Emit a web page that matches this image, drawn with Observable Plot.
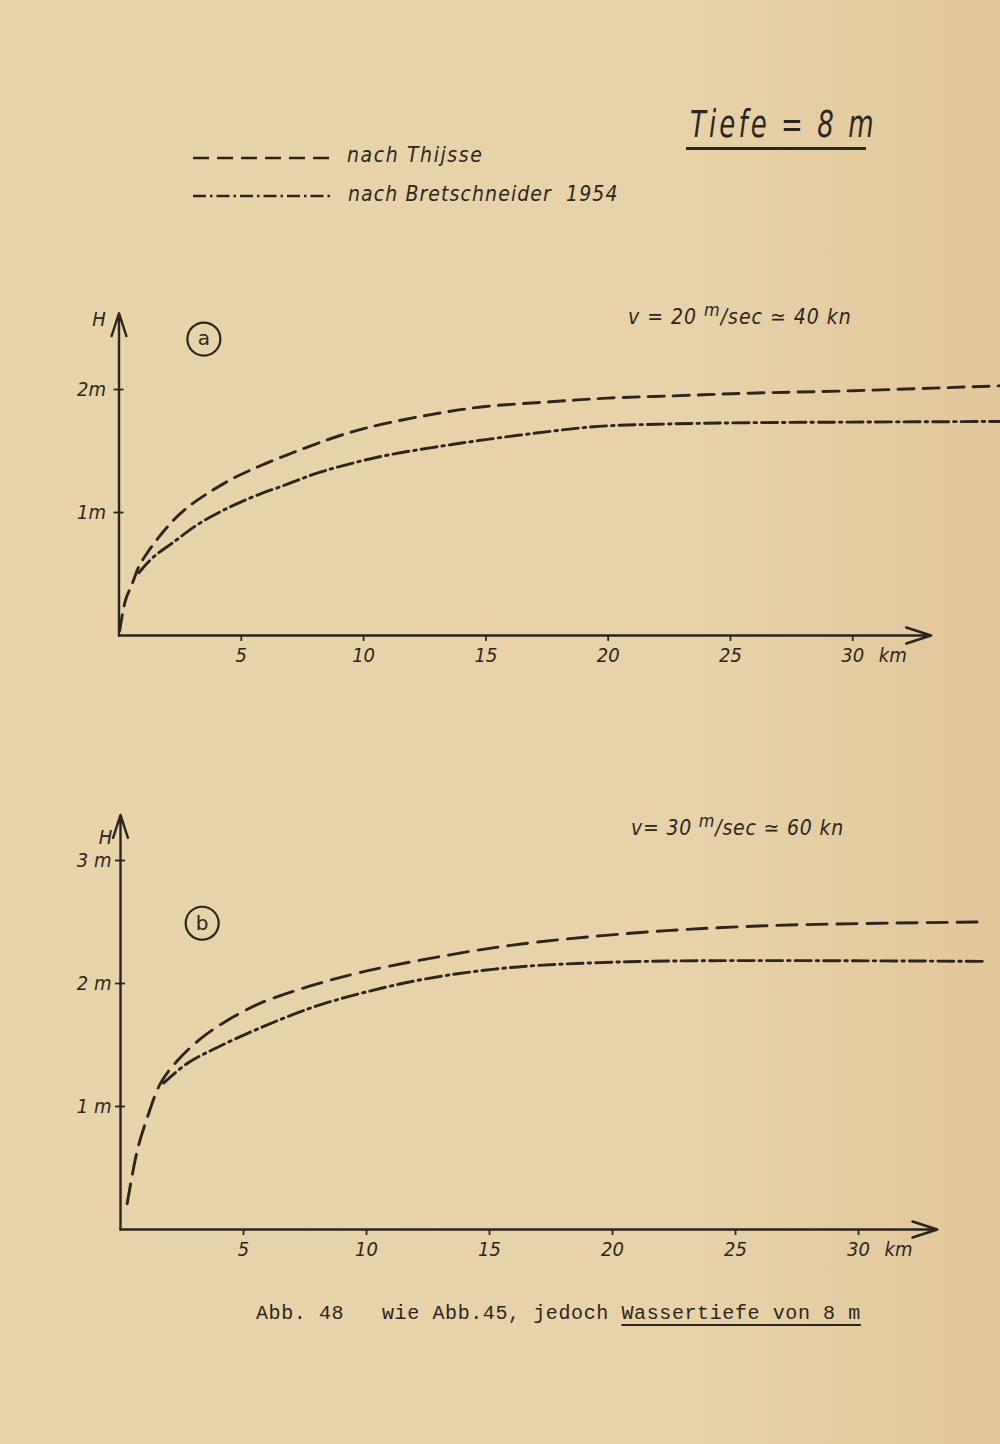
<!DOCTYPE html>
<html>
<head>
<meta charset="utf-8">
<script src="https://cdn.jsdelivr.net/npm/d3@7"></script>
<script src="https://cdn.jsdelivr.net/npm/@observablehq/plot@0.6"></script>
<style>
  html, body { margin: 0; padding: 0; }
  body {
    width: 1000px; height: 1444px; position: relative; overflow: hidden;
    background: linear-gradient(90deg, #e8d4ab 0%, #e7d2a9 70%, #e2c79a 100%);
    color: #2b2620;
    font-family: "DejaVu Sans Condensed", "DejaVu Sans", sans-serif;
  }
  .abs { position: absolute; white-space: pre; }
  .it { font-style: italic; font-stretch: condensed; }
  sup { font-size: 0.85em; vertical-align: 0.45em; line-height: 0; }
</style>
</head>
<body>
<div id="panelA" class="abs" style="left:0; top:280px;"></div>
<div id="panelB" class="abs" style="left:0; top:790px;"></div>

<div class="abs it" style="left:690px; top:106px; font-size:37px; letter-spacing:4px; line-height:1; transform:scaleX(0.78); transform-origin:0 0;">Tiefe = 8 m</div>
<div class="abs" style="left:686px; top:147px; width:180px; height:2.5px; background:#2b2620;"></div>

<svg class="abs" style="left:190px; top:145px;" width="150" height="60">
  <line x1="3" x2="143" y1="13" y2="13" stroke="#2b2620" stroke-width="2.6" stroke-dasharray="16 8"></line>
  <line x1="3" x2="143" y1="51" y2="51" stroke="#2b2620" stroke-width="2.6" stroke-dasharray="13 4 2.5 4"></line>
</svg>
<div class="abs it" id="legT" style="left:347px; top:143px; font-size:21px; letter-spacing:1.6px; line-height:1.2;"></div>
<div class="abs it" id="legB" style="left:348px; top:182px; font-size:21px; letter-spacing:1.1px; line-height:1.2;"></div>

<div class="abs it" style="left:628px; top:305px; font-size:21px; letter-spacing:1px; line-height:1.2;">v = 20 <sup>m</sup>/sec &#8771; 40 kn</div>
<div class="abs it" style="left:631px; top:816px; font-size:21px; letter-spacing:0.8px; line-height:1.2;">v= 30 <sup>m</sup>/sec &#8771; 60 kn</div>

<div class="abs" id="caption" style="left:256px; top:1302px; font-family:'Liberation Mono','DejaVu Sans Mono',monospace; font-size:20px; letter-spacing:0.6px; line-height:1.2;">Abb. 48   wie Abb.45, jedoch <span style="text-decoration:underline; text-underline-offset:5px; text-decoration-thickness:2px;">Wassertiefe von 8 m</span></div>

<script>
// ---------------- data ----------------
const seriesNames = ["nach Thijsse", "nach Bretschneider  1954"];

const xTicks = [5, 10, 15, 20, 25, 30];
const xUnit = "km";
const yTicksA = [1, 2];
const yTickLabelsA = ["1m", "2m"];
const yTicksB = [1, 2, 3];
const yTickLabelsB = ["1 m", "2 m", "3 m"];

// Panel a: v = 20 m/sec
const thijsseA_x = [0.03, 0.27, 0.54, 0.81, 1.15, 1.63, 2.24, 2.92, 3.74, 4.69, 5.78, 7.15, 8.51, 9.6, 10.81, 12.86, 14.9, 17.64, 19.97, 22.9, 25.8, 30.0, 36.0];
const thijsseA_h = [0.04, 0.29, 0.42, 0.56, 0.67, 0.80, 0.94, 1.06, 1.17, 1.28, 1.38, 1.49, 1.59, 1.66, 1.72, 1.80, 1.86, 1.90, 1.93, 1.95, 1.97, 1.99, 2.03];
const bretA_x = [0.81, 1.42, 2.24, 3.20, 4.28, 5.51, 6.88, 8.10, 9.33, 10.81, 12.86, 14.9, 17.64, 19.6, 22.5, 25.8, 30.0, 36.0];
const bretA_h = [0.51, 0.64, 0.76, 0.90, 1.02, 1.13, 1.23, 1.32, 1.39, 1.46, 1.53, 1.59, 1.66, 1.70, 1.72, 1.73, 1.735, 1.74];

// Panel b: v = 30 m/sec
const thijsseB_x = [0.27, 0.68, 1.09, 1.63, 2.30, 3.25, 4.34, 5.69, 7.72, 9.76, 12.47, 15.85, 20.85, 26.3, 34.96];
const thijsseB_h = [0.21, 0.64, 0.91, 1.19, 1.37, 1.55, 1.70, 1.84, 1.98, 2.09, 2.20, 2.31, 2.41, 2.47, 2.50];
const bretB_x = [1.75, 2.71, 3.93, 5.69, 7.72, 9.76, 12.47, 15.85, 19.5, 23.6, 35.2];
const bretB_h = [1.19, 1.35, 1.48, 1.64, 1.80, 1.92, 2.04, 2.13, 2.17, 2.185, 2.18];

// axis extents (arrow tips) in data units
const axisEndA = [33.2, 2.62];
const axisEndB = [33.2, 3.37];

document.getElementById("legT").textContent = seriesNames[0];
document.getElementById("legB").textContent = seriesNames[1];

const INK = "#2b2620";
const rows = (xs, hs) => xs.map((x, i) => ({x, h: hs[i]}));

function panel(opts) {
  const {height, marginLeft, marginTop, marginBottom, xMax, yMax, thijsse, bret,
         yTicks, yLabels, axisEnd, letter, letterPos, hDx, hDy, dashT, labelPad} = opts;
  const plotW = 1000 - marginLeft;
  return Plot.plot({
    width: 1000, height, marginLeft, marginRight: 0, marginTop, marginBottom,
    x: {domain: [0, xMax]},
    y: {domain: [0, yMax]},
    style: {
      background: "transparent", color: INK,
      fontFamily: "'DejaVu Sans Condensed', 'DejaVu Sans', sans-serif",
      fontStyle: "italic", fontSize: "20px", overflow: "visible"
    },
    marks: [
      // axes with arrow heads
      Plot.arrow([0], {x1: () => 0, y1: () => 0, x2: () => axisEnd[0], y2: () => 0,
        stroke: INK, strokeWidth: 2.6, headLength: 15, headAngle: 36}),
      Plot.arrow([0], {x1: () => 0, y1: () => 0, x2: () => 0, y2: () => axisEnd[1],
        stroke: INK, strokeWidth: 2.4, headLength: 15, headAngle: 36}),
      Plot.axisX({ticks: xTicks, tickSize: 6, tickPadding: 6, label: null,
        tickFormat: d => String(d), strokeWidth: 1.8}),
      Plot.text([xUnit], {x: () => xTicks[xTicks.length - 1], y: () => 0, text: d => d,
        dx: 40, dy: 20, fontStyle: "italic", fill: INK}),
      Plot.axisY({ticks: yTicks, tickSize: 5, tickPadding: labelPad, label: null,
        tickFormat: (d, i) => yLabels[yTicks.indexOf(d)], strokeWidth: 1.8}),
      Plot.tickY(yTicks, {y: d => d, insetRight: plotW - 5, stroke: INK, strokeWidth: 1.8}),
      Plot.text(["H"], {x: () => 0, y: () => axisEnd[1], text: d => d, dx: hDx, dy: hDy,
        fontStyle: "italic", fill: INK}),
      // circled panel letter
      Plot.dot([letter], {x: () => letterPos[0], y: () => letterPos[1], r: 16.5,
        stroke: INK, strokeWidth: 2.2, fill: "none"}),
      Plot.text([letter], {x: () => letterPos[0], y: () => letterPos[1], text: d => d,
        fontStyle: "normal", fontSize: 20, fontFamily: "'DejaVu Sans', sans-serif", fill: INK}),
      // curves
      Plot.line(thijsse, {x: "x", y: "h", curve: "catmull-rom", stroke: INK,
        strokeWidth: 2.9, strokeDasharray: dashT}),
      Plot.line(bret, {x: "x", y: "h", curve: "catmull-rom", stroke: INK,
        strokeWidth: 2.9, strokeDasharray: "16 5 2.5 5"})
    ]
  });
}

document.getElementById("panelA").appendChild(panel({
  height: 420, marginLeft: 118.5, marginTop: 20, marginBottom: 65,
  xMax: 36.04, yMax: 335 / 123,
  thijsse: rows(thijsseA_x, thijsseA_h), bret: rows(bretA_x, bretA_h),
  yTicks: yTicksA, yLabels: yTickLabelsA, axisEnd: axisEndA,
  letter: "a", letterPos: [3.47, 2.41], hDx: -20, hDy: 6, dashT: "16 9", labelPad: 8
}));

document.getElementById("panelB").appendChild(panel({
  height: 490, marginLeft: 120, marginTop: 10, marginBottom: 51,
  xMax: 35.77, yMax: 429 / 123,
  thijsse: rows(thijsseB_x, thijsseB_h), bret: rows(bretB_x, bretB_h),
  yTicks: yTicksB, yLabels: yTickLabelsB, axisEnd: axisEndB,
  letter: "b", letterPos: [3.32, 2.49], hDx: -15, hDy: 23, dashT: "20 10", labelPad: 4
}));
</script>
</body>
</html>
